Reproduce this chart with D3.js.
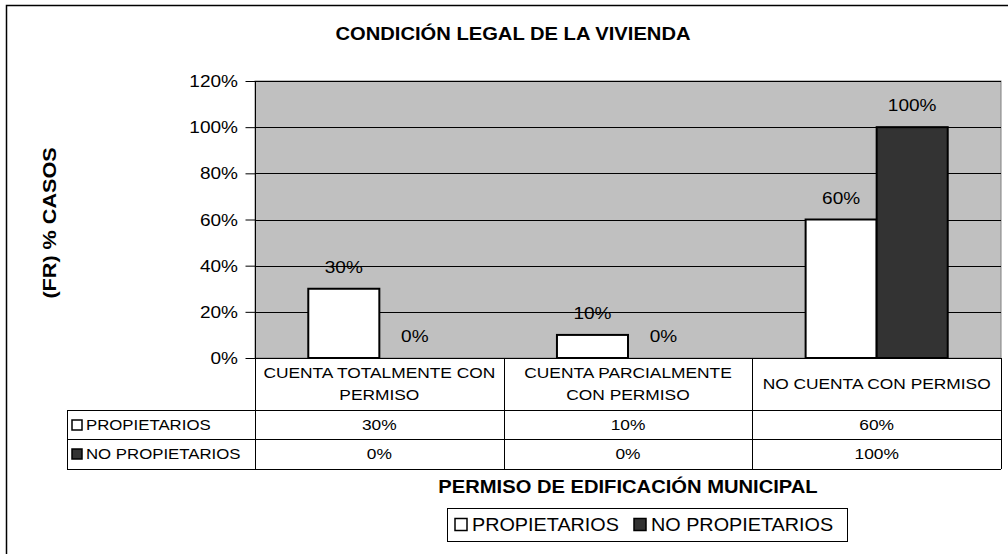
<!DOCTYPE html>
<html lang="es">
<head>
<meta charset="UTF-8">
<title>Condición legal de la vivienda</title>
<script src="https://d3js.org/d3.v7.min.js"></script>
<style>
  body { margin: 0; background: #fff; }
  text { font-family: "Liberation Sans", Arial, sans-serif; fill: #000; }
</style>
</head>
<body>
<svg width="1008" height="554"></svg>
<script>
const categories = [["CUENTA TOTALMENTE CON", "PERMISO"], ["CUENTA  PARCIALMENTE", "CON PERMISO"], ["NO CUENTA CON PERMISO"]];
const seriesNames = ["PROPIETARIOS", "NO PROPIETARIOS"];
const propietarios = [30, 10, 60];
const noPropietarios = [0, 0, 100];
const yTicks = [0, 20, 40, 60, 80, 100, 120];
const colors = ["#ffffff", "#333333"];

const svg = d3.select("svg");
const plot = {left: 255, right: 1001, top: 81, bottom: 358};
const sx = 1.12; // the original text runs a bit wide

// text helper: places text with a slight horizontal stretch
function label(g, x, y, str, size, opts = {}) {
  const t = g.append("text")
    .attr("transform", `translate(${x},${y}) ${opts.rotate ? "rotate(-90) " : ""}scale(${opts.sx || sx},1)`)
    .attr("text-anchor", opts.anchor || "middle")
    .style("font-size", size + "px")
    .text(str);
  if (opts.bold) t.style("font-weight", "bold");
  return t;
}

// outer chart border
svg.append("rect").attr("x", 6.5).attr("y", 5.5).attr("width", 1010).attr("height", 560)
  .attr("fill", "#fff").attr("stroke", "#000").attr("stroke-width", 1.5);

const x = d3.scaleBand().domain(d3.range(categories.length)).range([plot.left, plot.right]);
const gapRatio = 1.5;
const barW = x.bandwidth() / (2 + gapRatio);
const y = d3.scaleLinear().domain([0, 120]).range([plot.bottom, plot.top]);

// plot area
svg.append("rect").attr("x", plot.left).attr("y", plot.top)
  .attr("width", plot.right - plot.left).attr("height", plot.bottom - plot.top)
  .attr("fill", "#c0c0c0").attr("stroke", "#808080");

svg.append("g").selectAll("line").data(yTicks.slice(1)).join("line")
  .attr("x1", plot.left).attr("x2", plot.right)
  .attr("y1", d => Math.round(y(d)) + 0.5).attr("y2", d => Math.round(y(d)) + 0.5)
  .attr("stroke", "#000").attr("stroke-width", 1);

// y axis
const yAxis = svg.append("g").attr("transform", `translate(${plot.left + 0.5},0)`)
  .call(d3.axisLeft(y).tickValues(yTicks).tickFormat("").tickSize(10));
yAxis.select(".domain").remove();
yAxis.append("line").attr("y1", plot.top).attr("y2", 469).attr("stroke", "#000");
yAxis.selectAll(".tick line").attr("stroke", "#000");
yTicks.forEach(v => label(svg, 238, y(v) + 6, v + "%", 17, {anchor: "end"}));

// bars
const series = [propietarios, noPropietarios];
series.forEach((vals, s) => {
  const g = svg.append("g");
  g.selectAll("rect").data(vals).join("rect")
    .attr("x", (d, i) => x(i) + x.bandwidth() / 2 - barW + s * barW)
    .attr("y", d => y(d))
    .attr("width", barW)
    .attr("height", d => y(0) - y(d))
    .attr("fill", colors[s]).attr("stroke", "#000").attr("stroke-width", 2);
  vals.forEach((d, i) => label(g, x(i) + x.bandwidth() / 2 - barW / 2 + s * barW, y(d) - 16, d + "%", 17));
});

// x axis line
svg.append("line").attr("x1", plot.left).attr("x2", plot.right)
  .attr("y1", plot.bottom + 0.5).attr("y2", plot.bottom + 0.5).attr("stroke", "#000");

// data table
const rows = [358, 410, 439, 469];
const tbl = svg.append("g");
tbl.selectAll("line.h").data(rows.slice(1)).join("line")
  .attr("x1", 67).attr("x2", plot.right)
  .attr("y1", d => d + 0.5).attr("y2", d => d + 0.5).attr("stroke", "#000");
tbl.append("line").attr("x1", 67.5).attr("x2", 67.5).attr("y1", 410).attr("y2", 469).attr("stroke", "#000");
tbl.selectAll("line.v").data(d3.range(1, categories.length + 1)).join("line")
  .attr("x1", d => Math.round(x(d - 1) + x.bandwidth()) + 0.5)
  .attr("x2", d => Math.round(x(d - 1) + x.bandwidth()) + 0.5)
  .attr("y1", plot.bottom).attr("y2", 469).attr("stroke", "#000");

categories.forEach((lines, i) => {
  lines.forEach((ln, k) => {
    label(tbl, x(i) + x.bandwidth() / 2, 389 + (k - (lines.length - 1) / 2) * 22, ln, 15.5);
  });
});
const rowBase = [430, 459];
series.forEach((vals, s) => {
  vals.forEach((d, i) => label(tbl, x(i) + x.bandwidth() / 2, rowBase[s], d + "%", 15.5));
  tbl.append("rect").attr("x", 72).attr("y", rowBase[s] - 10).attr("width", 10).attr("height", 10)
    .attr("fill", colors[s]).attr("stroke", "#000").attr("stroke-width", 1.5);
  label(tbl, 86, rowBase[s], seriesNames[s], 15, {anchor: "start"});
});

// titles
label(svg, 513, 40, "CONDICIÓN LEGAL DE LA VIVIENDA", 18, {bold: true});
label(svg, 56, 223, "(FR) % CASOS", 18, {bold: true, rotate: true, sx: 1.2});
label(svg, 628, 493, "PERMISO DE EDIFICACIÓN MUNICIPAL", 18, {bold: true});

// legend
const leg = svg.append("g");
leg.append("rect").attr("x", 447.5).attr("y", 508.5).attr("width", 400).attr("height", 33)
  .attr("fill", "#fff").attr("stroke", "#000");
const legX = [455, 634];
seriesNames.forEach((n, s) => {
  leg.append("rect").attr("x", legX[s]).attr("y", 518.5).attr("width", 12).attr("height", 12)
    .attr("fill", colors[s]).attr("stroke", "#000").attr("stroke-width", 1.5);
  label(leg, legX[s] + 17, 531, n, 18, {anchor: "start", sx: 1.1});
});
</script>
</body>
</html>
